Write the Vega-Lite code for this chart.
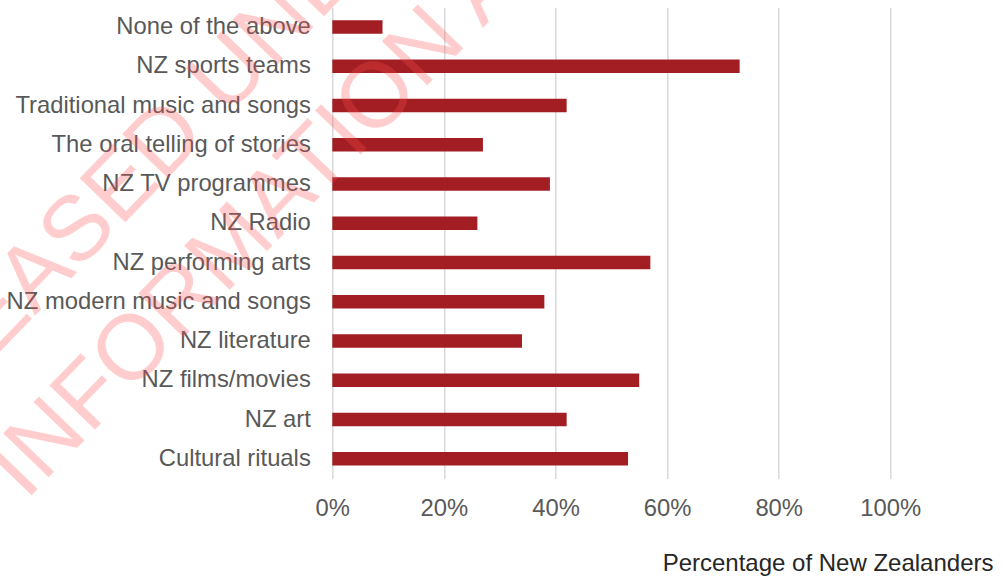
{
  "$schema": "https://vega.github.io/schema/vega-lite/v6.json",
  "width": 558,
  "height": 471,
  "autosize": {"type": "none"},
  "padding": {"left": 332.3, "top": 7.4, "right": 112.7, "bottom": 97.6},
  "background": "white",
  "config": {
    "view": {"stroke": null},
    "font": "Liberation Sans"
  },
  "data": {
    "values": [
      {"category": "None of the above", "pct": 0.09},
      {"category": "NZ sports teams", "pct": 0.73},
      {"category": "Traditional music and songs", "pct": 0.42},
      {"category": "The oral telling of stories", "pct": 0.27},
      {"category": "NZ TV programmes", "pct": 0.39},
      {"category": "NZ Radio", "pct": 0.26},
      {"category": "NZ performing arts", "pct": 0.57},
      {"category": "NZ modern music and songs", "pct": 0.38},
      {"category": "NZ literature", "pct": 0.34},
      {"category": "NZ films/movies", "pct": 0.55},
      {"category": "NZ art", "pct": 0.42},
      {"category": "Cultural rituals", "pct": 0.53}
    ]
  },
  "resolve": {"scale": {"y": "independent"}, "axis": {"y": "independent"}},
  "layer": [
    {
      "mark": {"type": "bar", "color": "#a21e23"},
      "encoding": {
        "y": {
          "field": "category",
          "type": "nominal",
          "sort": null,
          "scale": {"paddingInner": 0.655, "paddingOuter": 0.3275},
          "axis": {
            "title": null,
            "domain": false,
            "ticks": false,
            "tickSize": 0,
            "labelPadding": 22,
            "labelFontSize": 23.8,
            "labelColor": "#595959",
            "labelFont": "Liberation Sans",
            "labelLimit": 400,
            "grid": false
          }
        },
        "x": {
          "field": "pct",
          "type": "quantitative",
          "scale": {"domain": [0, 1], "nice": false, "zero": true},
          "axis": {
            "values": [0, 0.2, 0.4, 0.6, 0.8, 1],
            "format": ".0%",
            "domain": false,
            "ticks": false,
            "tickSize": 0,
            "grid": true,
            "gridColor": "#d9d9d9",
            "gridWidth": 1.5,
            "labelFlush": false,
            "labelAlign": "center",
            "labelPadding": 18,
            "labelFontSize": 23.8,
            "labelColor": "#595959",
            "labelFont": "Liberation Sans",
            "title": "Percentage of New Zealanders",
            "titleFont": "Liberation Sans",
            "titleFontSize": 24,
            "titleFontWeight": "normal",
            "titleColor": "#262626",
            "titleAnchor": "end",
            "titleAlign": "right",
            "titleBaseline": "alphabetic",
            "titleX": 660.7,
            "titleY": 91.6
          }
        }
      }
    },
    {
      "data": {"values": [{}]},
      "mark": {
        "type": "text",
        "text": "RELEASED UNDER THE OFFICIAL",
        "angle": -46,
        "align": "left",
        "baseline": "alphabetic",
        "font": "Liberation Sans",
        "fontSize": 92,
        "fill": "#ff5050",
        "opacity": 0.28
      },
      "encoding": {
        "x": {"datum": -0.8326, "type": "quantitative"},
        "y": {"datum": -0.0221, "type": "quantitative", "scale": {"domain": [0, 1], "nice": false, "zero": false}, "axis": null}
      }
    },
    {
      "data": {"values": [{}]},
      "mark": {
        "type": "text",
        "text": "INFORMATION ACT",
        "angle": -46,
        "align": "left",
        "baseline": "alphabetic",
        "font": "Liberation Sans",
        "fontSize": 92,
        "fill": "#ff5050",
        "opacity": 0.28
      },
      "encoding": {
        "x": {"datum": -0.5493, "type": "quantitative"},
        "y": {"datum": -0.0484, "type": "quantitative", "scale": {"domain": [0, 1], "nice": false, "zero": false}, "axis": null}
      }
    }
  ]
}
